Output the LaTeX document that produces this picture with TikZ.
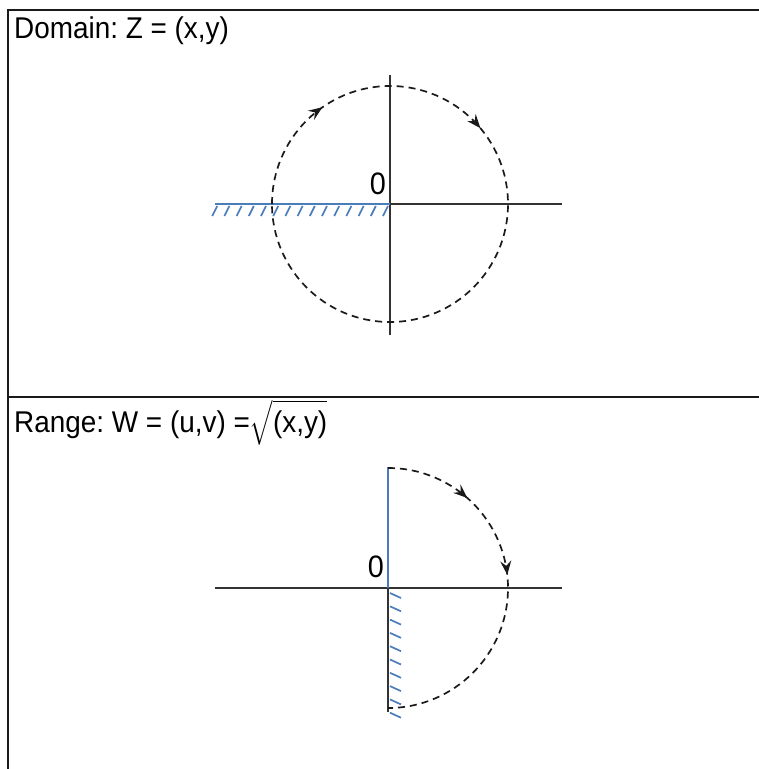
\documentclass[tikz,border=0pt]{standalone}
\usepackage{amsmath}
\usepackage{fontspec}
\setmainfont{Liberation Sans}
\usetikzlibrary{arrows.meta,decorations.markings}
\definecolor{ink}{HTML}{1A1A1A}
\definecolor{cutblue}{HTML}{4A7DBA}
\definecolor{axisgray}{HTML}{333333}
\newcommand{\narrow}[1]{\scalebox{0.93}[1]{#1}}
\frenchspacing

\begin{document}
\begin{tikzpicture}[x=1pt,y=-1pt,
  frame/.style={draw=ink,line width=1.8pt},
  axis/.style={draw=axisgray,line width=1.2pt},
  cut/.style={draw=cutblue,line width=1.8pt},
  hatch/.style={draw=cutblue,line width=1.7pt},
  orbit/.style={draw=ink,line width=1.7pt,dash pattern=on 7pt off 5pt},
  flowtip/.tip={Stealth[length=14pt,width=11pt,inset=5pt]},
  title/.style={anchor=base west,inner sep=0pt,font=\fontsize{30}{36}\selectfont},
  origin/.style={inner sep=0pt,font=\fontsize{31}{36}\selectfont}
]
  \useasboundingbox (0,0) rectangle (759,769);

  % panels
  \draw[frame] (8,769) -- (8,10) -- (759,10);
  \draw[frame] (8,397) -- (759,397);
  \node[title] (domain) at (14,38) {\narrow{Domain: Z = (x,y)}};
  \node[title] (range) at (14,432) {\narrow{Range: W = (u,v) =$\sqrt{\text{(x,y)}}$}};

  % domain plane
  \coordinate (O1) at (390,204);
  \draw[axis] (215,204) -- (562,204);
  \draw[axis] (390,75) -- (390,335);
  \draw[cut] (215,204) -- (O1);
  \foreach \i in {0,...,14}
    \draw[hatch] (388-\i*12.2,206) -- (383-\i*12.2,216);
  \node[origin] (zero1) at (378,184) {\narrow{0}};
  \draw[orbit,postaction={decorate},decoration={markings,
      mark=at position 0.153 with {\arrow{flowtip}},
      mark=at position 0.389 with {\arrow{flowtip}}}]
    (O1) ++(180:118) arc[start angle=180,end angle=540,radius=118];

  % range plane
  \coordinate (O2) at (388,588);
  \draw[axis] (215,588) -- (562,588);
  \draw[axis] (O2) -- (388,712);
  \draw[cut] (388,467) -- (O2);
  \foreach \i in {0,...,9}
    \draw[hatch] (390,593+\i*13.3) -- (401,598+\i*13.3);
  \node[origin] (zero2) at (376,567) {\narrow{0}};
  \draw[orbit,postaction={decorate},decoration={markings,
      mark=at position 0.23 with {\arrow{flowtip}},
      mark=at position 0.465 with {\arrow{flowtip}}}]
    (O2) ++(-90:120) arc[start angle=-90,end angle=90,radius=120];
\end{tikzpicture}
\end{document}
